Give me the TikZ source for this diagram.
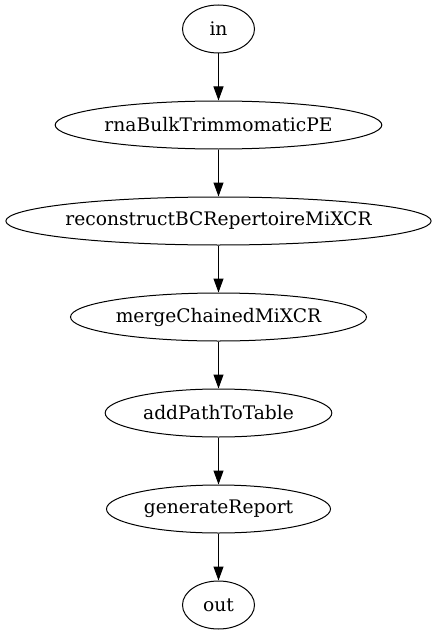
\documentclass[tikz,border=0pt]{standalone}
\usepackage{fontspec}
\setmainfont{DejaVu Serif}
\usetikzlibrary{shapes.geometric,arrows.meta}

\begin{document}
\begin{tikzpicture}[
  x=0.75pt,y=-0.75pt,
  proc/.style={draw,ellipse,line width=0.75pt,minimum height=36pt,inner sep=0pt,
    font=\fontsize{14}{17}\selectfont},
  flow/.style={-{Triangle[length=10.5pt,width=7.5pt]},line width=0.75pt}]
  \useasboundingbox (0,0) rectangle (437,635);
  \node[proc,minimum width=54pt] (in) at (218.5,29) {in};
  \node[proc,minimum width=245pt] (trim) at (218.5,125) {rnaBulkTrimmomaticPE};
  \node[proc,minimum width=319pt,inner xsep=-2.2pt] (recon) at (218.5,221) {reconstructBCRepertoireMiXCR};
  \node[proc,minimum width=222pt] (merge) at (218.5,317) {mergeChainedMiXCR};
  \node[proc,minimum width=170pt] (addpath) at (218.5,413) {addPathToTable};
  \node[proc,minimum width=168pt] (report) at (218.5,509) {generateReport};
  \node[proc,minimum width=54pt] (out) at (218.5,605) {out};
  \draw[flow] (in) -- (trim);
  \draw[flow] (trim) -- (recon);
  \draw[flow] (recon) -- (merge);
  \draw[flow] (merge) -- (addpath);
  \draw[flow] (addpath) -- (report);
  \draw[flow] (report) -- (out);
\end{tikzpicture}
\end{document}
